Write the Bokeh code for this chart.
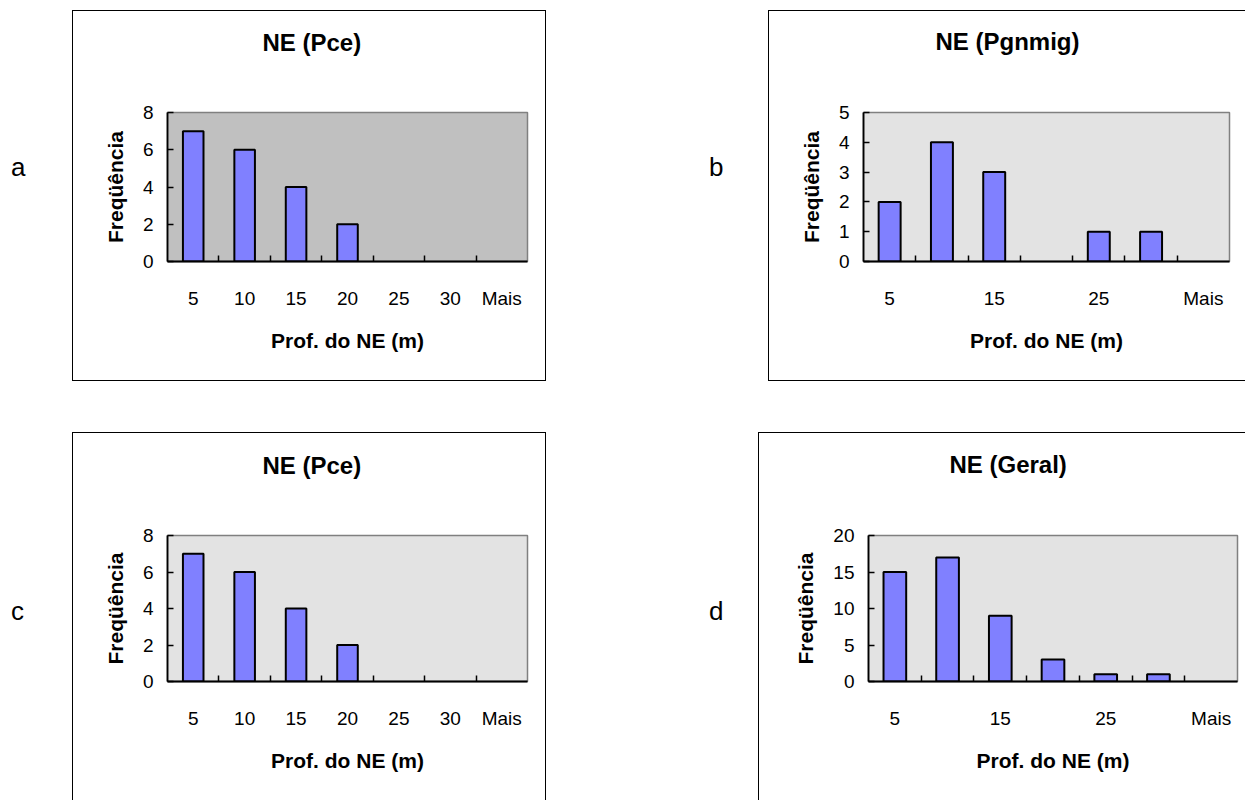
from bokeh.plotting import figure
from bokeh.models import Div, Spacer, FixedTicker, Title
from bokeh.layouts import row, column
from bokeh.embed import file_html
from bokeh.resources import INLINE

# ---------------- data ----------------
bins = ["5", "10", "15", "20", "25", "30", "Mais"]
freq_a = [7, 6, 4, 2, 0, 0, 0]
freq_b = [2, 4, 3, 0, 1, 1, 0]
freq_c = [7, 6, 4, 2, 0, 0, 0]
freq_d = [15, 17, 9, 3, 1, 1, 0]
title_a = "NE (Pce)"
title_b = "NE (Pgnmig)"
title_c = "NE (Pce)"
title_d = "NE (Geral)"
yticks_a = [0, 2, 4, 6, 8]
yticks_b = [0, 1, 2, 3, 4, 5]
yticks_c = [0, 2, 4, 6, 8]
yticks_d = [0, 5, 10, 15, 20]
labels_all = ["5", "10", "15", "20", "25", "30", "Mais"]
labels_alt = ["5", "15", "25", "Mais"]
x_title = "Prof. do NE (m)"
y_title = "Freqüência"
letters = ["a", "b", "c", "d"]

FONT = "Liberation Sans"
BAR = "#8080FF"


def panel(freqs, title, yticks, shown, bg, w, h, mb, title_offset, gap, bar_w, styles):
    n = len(bins)
    xs = [i + 0.5 for i in range(n)]
    p = figure(width=w, height=h, x_range=(0, n), y_range=(0, yticks[-1]),
               output_backend="svg", toolbar_location=None,
               min_border_left=mb[0], min_border_right=mb[1],
               min_border_top=mb[2], min_border_bottom=mb[3])
    p.styles = styles
    p.background_fill_color = bg
    p.border_fill_color = "white"
    p.outline_line_color = "#808080"
    p.outline_line_width = 1.5
    p.grid.visible = False
    p.title = None

    xa = p.below[0]
    ya = p.left[0]

    bx = [x for x, f in zip(xs, freqs) if f > 0]
    bt = [f for f in freqs if f > 0]
    p.vbar(x=bx, top=bt, bottom=0, width=bar_w, fill_color=BAR,
           line_color="black", line_width=2)

    # spacer between frame and title, then the title itself (outermost)
    p.add_layout(Title(text=" ", standoff=gap, text_font=FONT,
                       text_font_size="10px"), "above")
    p.add_layout(Title(text=title, align="left", offset=title_offset, standoff=0,
                       text_font=FONT, text_font_size="24px",
                       text_font_style="bold", text_color="black"), "above")

    pos = {b: x for b, x in zip(bins, xs)}
    tick_pos = [pos[s] for s in shown]
    xa.ticker = FixedTicker(ticks=tick_pos, minor_ticks=[float(i) for i in range(1, n)])
    xa.major_label_overrides = {pos[s]: s for s in shown}
    xa.major_tick_line_color = None
    xa.minor_tick_line_color = "black"
    xa.minor_tick_in = 6
    xa.minor_tick_out = 0
    xa.minor_tick_line_width = 1.5
    xa.major_label_standoff = 20
    xa.axis_label = x_title
    xa.axis_label_standoff = 17

    ya.ticker = FixedTicker(ticks=yticks, minor_ticks=[])
    ya.major_tick_in = 6
    ya.major_tick_out = 0
    ya.major_tick_line_color = "black"
    ya.major_tick_line_width = 1.5
    ya.minor_tick_line_color = None
    ya.major_label_standoff = 14
    ya.axis_label = y_title
    ya.axis_label_standoff = 13

    for ax in (xa, ya):
        ax.axis_line_color = "black"
        ax.axis_line_width = 1.8
        ax.major_label_text_font = FONT
        ax.major_label_text_font_size = "19px"
        ax.major_label_text_color = "black"
        ax.axis_label_text_font = FONT
        ax.axis_label_text_font_size = "21px"
        ax.axis_label_text_font_style = "bold"
        ax.axis_label_text_color = "black"
    return p


def letter(ch, w, h, left, top):
    html = ('<div style="position:relative;left:%dpx;top:%dpx;'
            'font-family:\'Liberation Sans\';font-size:26px;line-height:30px;'
            'color:black;">%s</div>' % (left, top, ch))
    return Div(text=html, width=w, height=h, margin=0)


B = "1px solid black"
pa = panel(freq_a, title_a, yticks_a, labels_all, "#C0C0C0", 474, 371,
           (94, 20, 98, 118), 95, 44, 0.4,
           {"border": B})
pb = panel(freq_b, title_b, yticks_b, labels_alt, "#E3E3E3", 477, 371,
           (94, 17, 101, 121), 72, 45, 0.42,
           {"border-left": B, "border-top": B, "border-bottom": B})
pc = panel(freq_c, title_c, yticks_c, labels_all, "#E3E3E3", 474, 368,
           (94, 20, 98, 115), 95, 44, 0.4,
           {"border-left": B, "border-top": B, "border-right": B})
pd = panel(freq_d, title_d, yticks_d, labels_alt, "#E3E3E3", 487, 368,
           (109, 9, 102, 120), 81, 45, 0.43,
           {"border-left": B, "border-top": B})

la = letter(letters[0], 72, 371, 11, 142)
lb = letter(letters[1], 222, 371, 163, 142)
lc = letter(letters[2], 72, 368, 11, 164)
ld = letter(letters[3], 212, 368, 163, 164)

layout = column(
    Spacer(width=1245, height=10),
    row(la, pa, lb, pb),
    Spacer(width=1245, height=51),
    row(lc, pc, ld, pd),
)

open("out.html", "w").write(file_html(layout, INLINE))
